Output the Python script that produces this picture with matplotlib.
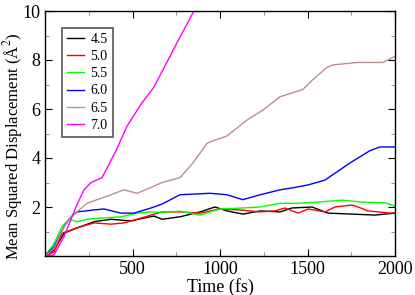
import numpy as np
import matplotlib.pyplot as plt

plt.rcParams['font.family'] = ['Liberation Serif', 'DejaVu Serif']
plt.rcParams['mathtext.fontset'] = 'stix'

# MSD curves, time in fs
t_45 = [0, 51, 109, 166, 280, 377, 491, 566, 623, 669, 771, 886, 971, 1040, 1131, 1229, 1343, 1411, 1526, 1617, 1754, 1886, 2000]
y_45 = [0, 0.24, 0.93, 1.1, 1.4, 1.5, 1.43, 1.55, 1.63, 1.5, 1.6, 1.8, 2.0, 1.84, 1.71, 1.84, 1.8, 1.96, 2.0, 1.75, 1.71, 1.67, 1.75]

t_50 = [0, 51, 97, 149, 206, 280, 377, 451, 526, 606, 669, 771, 886, 1000, 1114, 1229, 1314, 1371, 1446, 1503, 1600, 1657, 1754, 1789, 1846, 1971, 2000]
y_50 = [0, 0.16, 0.93, 1.06, 1.2, 1.35, 1.3, 1.35, 1.5, 1.67, 1.8, 1.8, 1.75, 1.92, 1.88, 1.8, 1.84, 1.96, 1.75, 1.92, 1.8, 2.0, 2.08, 2.0, 1.84, 1.75, 1.76]

t_55 = [0, 51, 97, 137, 183, 240, 320, 434, 526, 606, 669, 771, 886, 1000, 1131, 1229, 1343, 1429, 1560, 1697, 1811, 1943, 2000]
y_55 = [0, 0.5, 1.2, 1.5, 1.4, 1.5, 1.55, 1.6, 1.75, 1.8, 1.78, 1.83, 1.67, 1.92, 1.96, 2.0, 2.15, 2.15, 2.2, 2.28, 2.2, 2.17, 2.04]

t_60 = [0, 51, 109, 149, 183, 280, 337, 434, 509, 606, 669, 771, 943, 1040, 1131, 1229, 1343, 1429, 1503, 1600, 1743, 1857, 1914, 2000]
y_60 = [0, 0.37, 1.2, 1.6, 1.8, 1.88, 1.92, 1.75, 1.75, 1.96, 2.12, 2.5, 2.56, 2.5, 2.3, 2.5, 2.7, 2.8, 2.9, 3.1, 3.8, 4.3, 4.45, 4.45]

t_65 = [0, 51, 109, 149, 240, 377, 451, 526, 606, 669, 771, 846, 926, 960, 1040, 1154, 1246, 1343, 1474, 1531, 1611, 1646, 1783, 1931, 2000]
y_65 = [0, 0.3, 1.2, 1.6, 2.15, 2.5, 2.7, 2.56, 2.8, 3.0, 3.2, 3.8, 4.6, 4.7, 4.9, 5.55, 5.96, 6.5, 6.8, 7.2, 7.7, 7.8, 7.9, 7.9, 8.15]

t_70 = [0, 51, 109, 149, 183, 223, 263, 326, 406, 469, 549, 623, 754, 851, 880]
y_70 = [0, 0.04, 0.8, 1.5, 2.1, 2.7, 3.0, 3.2, 4.3, 5.3, 6.2, 6.9, 8.7, 10.0, 10.4]

labels = ['4.5', '5.0', '5.5', '6.0', '6.5', '7.0']
colors = ['black', '#ff0000', '#00ff00', '#0000ff', '#bc8f8f', '#ff00ff']
series = [(t_45, y_45), (t_50, y_50), (t_55, y_55), (t_60, y_60), (t_65, y_65), (t_70, y_70)]

fig = plt.figure(figsize=(4.15, 2.95), dpi=100)
ax = fig.add_axes([45/415, 39/295, 350/415, 245/295])

for (t, y), lab, c in zip(series, labels, colors):
    ax.plot(t, y, color=c, lw=1.0, label=lab)

ax.set_xlim(0, 2000)
ax.set_ylim(0, 10)
ax.set_xticks([500, 1000, 1500, 2000])
ax.set_xticks(np.arange(0, 2001, 250), minor=True)
ax.set_yticks([2, 4, 6, 8, 10])
ax.set_yticks(np.arange(0, 11, 1), minor=True)
ax.tick_params(which='both', direction='in', top=True, right=True, labelsize=13)
ax.tick_params(which='major', length=5)
ax.tick_params(which='minor', length=3, color='gray')
for s in ax.spines.values():
    s.set_linewidth(1.0)

ax.set_xlabel('Time (fs)', fontsize=13, labelpad=0)
ylab = fig.text(11/415, 1 - 146/295, 'Mean Squared Displacement (Å$^2$)', rotation=90,
                ha='center', va='center', fontsize=12)

# keep the y label fully inside the figure
fig.canvas.draw()
bb = ylab.get_window_extent()
W, H = fig.bbox.width, fig.bbox.height
dx = max(0, 1 - bb.x0)
dy = min(0, H - 1 - bb.y1)
if dx or dy:
    x0, y0 = ylab.get_position()
    ylab.set_position((x0 + dx / W, y0 + dy / H))

leg = ax.legend(loc='upper left', bbox_to_anchor=(17/350, 228/245), fontsize=10,
                handlelength=1.2, handletextpad=0.5, labelspacing=0.3,
                borderpad=0.35, borderaxespad=0, fancybox=False, framealpha=1)
leg.get_frame().set_edgecolor('#555555')
leg.get_frame().set_linewidth(1.2)

fig.savefig('out.png', dpi=100)
